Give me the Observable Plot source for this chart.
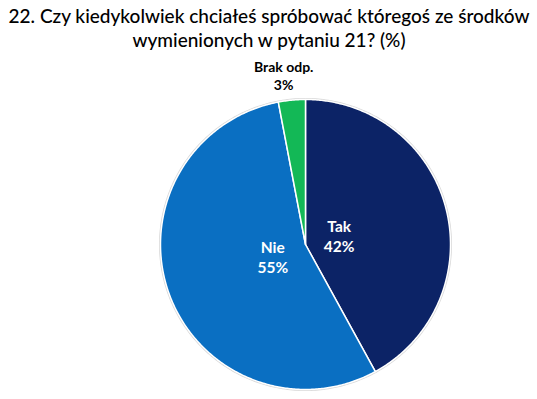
<!DOCTYPE html>
<html><head><meta charset="utf-8">
<script src="https://cdn.jsdelivr.net/npm/d3@7"></script>
<script src="https://cdn.jsdelivr.net/npm/@observablehq/plot@0.6"></script>
<style>body{margin:0;background:#fff;overflow:hidden}</style>
</head><body><div id="chart"></div>
<script>
const titleLines = ["22. Czy kiedykolwiek chciałeś spróbować któregoś ze środków", "wymienionych w pytaniu 21? (%)"];
const categories = ["Tak", "Nie", "Brak odp."];
const values = [42, 55, 3];
const colors = ["#0c2366", "#0a6fc2", "#13b856"];

const total = d3.sum(values);
let acc = 0;
const slices = categories.map((c, i) => {
  const a0 = acc / total * 2 * Math.PI;
  acc += values[i];
  const a1 = acc / total * 2 * Math.PI;
  return {c, v: values[i], a0, a1, mid: (a0 + a1) / 2, frac: values[i] / total};
});
const polys = slices.flatMap(s => {
  const n = Math.max(2, Math.ceil((s.a1 - s.a0) / 0.01));
  const pts = [{c: s.c, x: 0, y: 0}];
  for (let k = 0; k <= n; k++) {
    const a = s.a0 + (s.a1 - s.a0) * k / n;
    pts.push({c: s.c, x: Math.sin(a), y: Math.cos(a)});
  }
  pts.push({c: s.c, x: 0, y: 0});
  return pts;
});
const ring = d3.range(0, 361).map(d => ({x: Math.sin(d * Math.PI / 180), y: Math.cos(d * Math.PI / 180)}));
const labels = slices.map(s => {
  const outside = s.frac < 0.05;
  const r = outside ? 1.16 : 0.24;
  return {text: `${s.c}\n${s.v}%`, x: r * Math.sin(s.mid), y: r * Math.cos(s.mid), outside};
});

const font = "Lato, 'Open Sans', sans-serif";
const chart = Plot.plot({
  width: 537, height: 399,
  marginTop: 0, marginLeft: 0, marginRight: 0, marginBottom: 0,
  x: {domain: [-1, 1], range: [160, 450], axis: null},
  y: {domain: [-1, 1], range: [389, 99], axis: null},
  color: {domain: categories, range: colors},
  style: {fontFamily: font, background: "white"},
  marks: [
    Plot.line(ring, {x: "x", y: "y", stroke: "#d8d8d8", strokeWidth: 3}),
    Plot.line(polys, {x: "x", y: "y", z: "c", fill: "c", stroke: "white", strokeWidth: 1.5, strokeLinejoin: "round"}),
    Plot.text(labels.filter(d => !d.outside), {x: "x", y: "y", text: "text", fill: "white", fontWeight: "bold", fontSize: 15.5, lineHeight: 1.3}),
    Plot.text(labels.filter(d => d.outside), {x: "x", y: "y", text: "text", fill: "black", fontWeight: "bold", fontSize: 14, lineHeight: 1.3, dx: -6, dy: -2}),
    Plot.text([titleLines.join("\n")], {frameAnchor: "top", text: d => d, lineAnchor: "top", dy: 5, fontSize: 19, fontWeight: 500, fill: "#000", lineHeight: 1.27})
  ]
});
document.getElementById("chart").append(chart);
</script>
</body></html>
